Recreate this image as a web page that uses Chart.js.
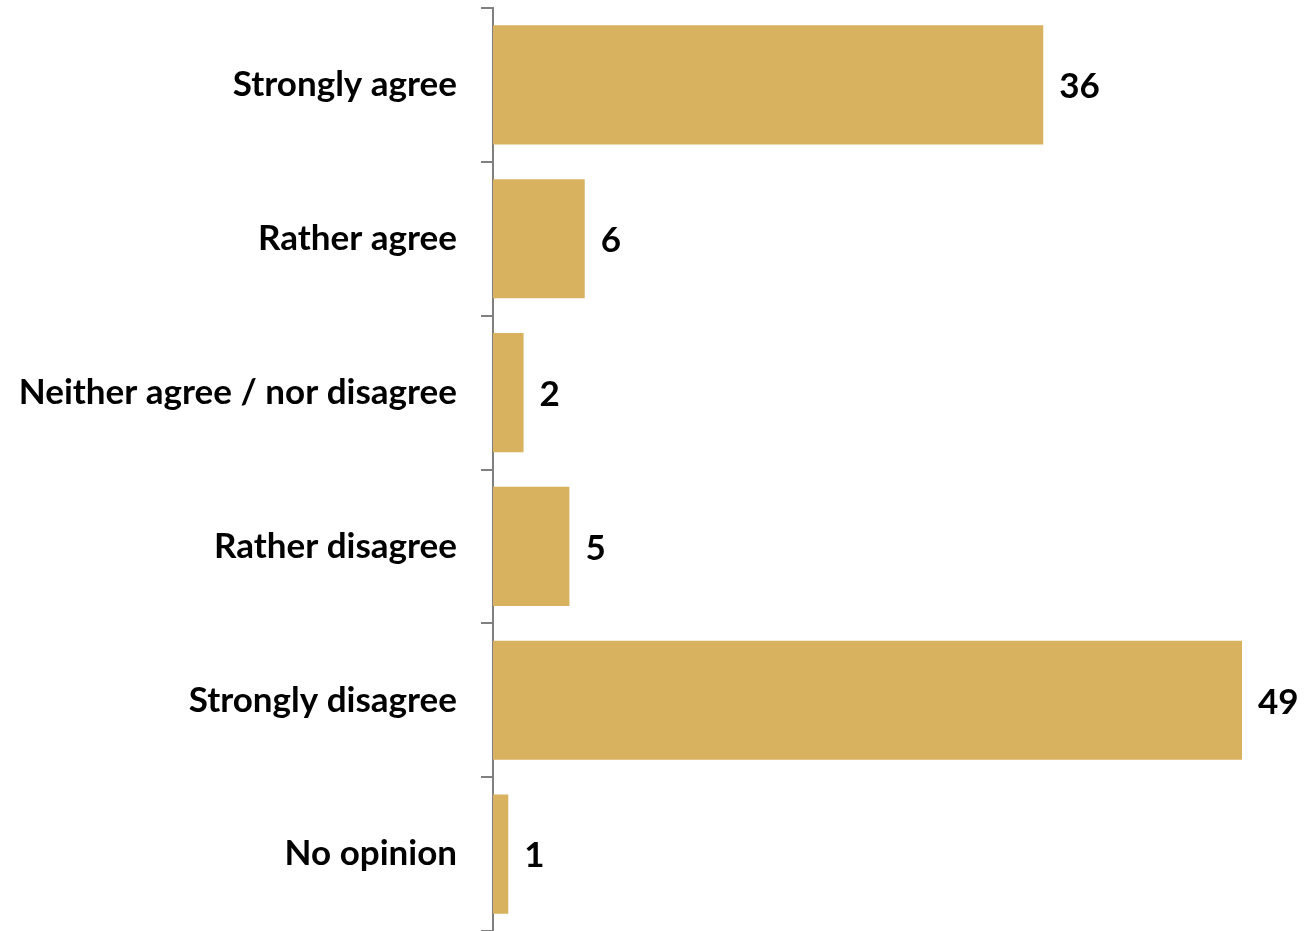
<!DOCTYPE html>
<html>
<head>
<meta charset="utf-8">
<script src="https://cdn.jsdelivr.net/npm/chart.js@4"></script>
<style>
	html, body { margin: 0; padding: 0; background: #fff; }
	#wrap { width: 1304px; height: 931px; position: relative; }
</style>
</head>
<body>
<div id="wrap"><canvas id="answersChart"></canvas></div>
<script>
const categories = [
	"Strongly agree",
	"Rather agree",
	"Neither agree / nor disagree",
	"Rather disagree",
	"Strongly disagree",
	"No opinion",
];
const shares = [36, 6, 2, 5, 49, 1];

const barColor = "#D8B25E";
const axisColor = "#808080";
const labelFont = { family: "Lato, 'Open Sans', sans-serif", size: 35, weight: "bold" };

// Write the value to the right of each bar
const valueLabels = {
	id: "valueLabels",
	afterDatasetsDraw(chart) {
		const { ctx } = chart;
		const meta = chart.getDatasetMeta(0);
		ctx.save();
		ctx.font = `bold ${labelFont.size}px ${labelFont.family}`;
		ctx.fillStyle = "#000";
		ctx.textAlign = "left";
		ctx.textBaseline = "middle";
		meta.data.forEach((bar, i) => {
			ctx.fillText(String(shares[i]), bar.x + 16, bar.y + 2);
		});
		ctx.restore();
	},
};

const ctx = document.getElementById("answersChart").getContext("2d");
new Chart(ctx, {
	type: "bar",
	data: {
		labels: categories,
		datasets: [
			{
				data: shares,
				backgroundColor: barColor,
				barPercentage: 0.775,
				categoryPercentage: 1,
			},
		],
	},
	options: {
		indexAxis: "y",
		responsive: true,
		maintainAspectRatio: false,
		animation: false,
		layout: { padding: { top: 8, right: 62, bottom: 0, left: 0 } },
		plugins: { legend: { display: false }, tooltip: { enabled: false } },
		scales: {
			x: {
				min: 0,
				max: 49,
				display: false,
			},
			y: {
				afterFit: (scale) => {
					scale.width = 493;
					// no extra room above/below for the labels
					scale.paddingTop = 0;
					scale.paddingBottom = 0;
				},
				grid: {
					offset: true,
					drawOnChartArea: false,
					tickLength: 12,
					color: axisColor,
					lineWidth: 2,
				},
				border: { color: axisColor, width: 2 },
				ticks: {
					color: "#000",
					padding: 24,
					font: labelFont,
				},
			},
		},
	},
	plugins: [valueLabels],
});
</script>
</body>
</html>
